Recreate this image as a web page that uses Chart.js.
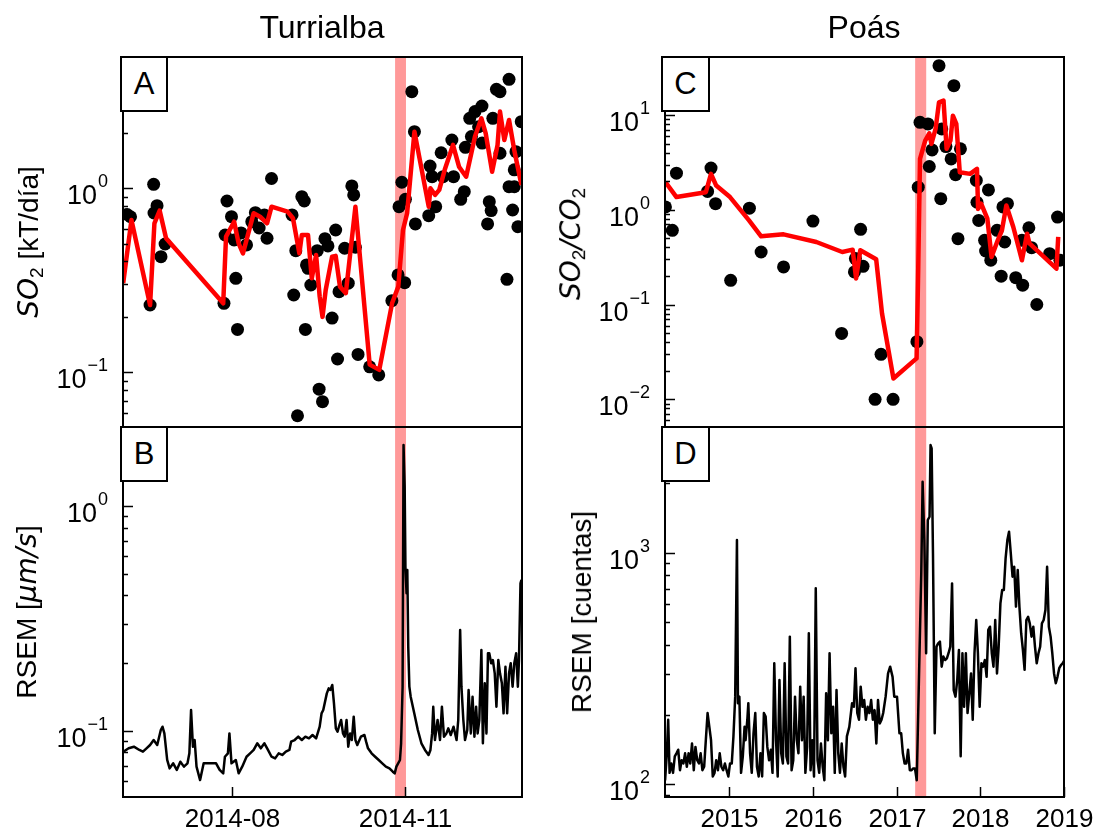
<!DOCTYPE html>
<html><head><meta charset="utf-8">
<script src="https://cdn.jsdelivr.net/npm/chart.js@4.4.1/dist/chart.umd.min.js"></script>
<style>
body{margin:0;background:#fff;width:1100px;height:834px;position:relative;overflow:hidden;font-family:"Liberation Sans",Arial,sans-serif;}
canvas{position:absolute;left:0;top:0;}
.title{position:absolute;top:9px;font-size:32px;transform:translateX(-50%);white-space:nowrap;}
.box{position:absolute;background:#fff;border:2px solid #000;box-sizing:border-box;font-size:31px;display:flex;align-items:center;justify-content:center;}
.ylab{position:absolute;font-size:28px;white-space:nowrap;transform:translate(-50%,-50%) rotate(-90deg);}
.m{font-family:"DejaVu Sans";font-style:italic;}
sub{font-size:0.68em;vertical-align:-0.25em;}
</style></head>
<body>
<canvas id="cA" width="1100" height="834"></canvas>
<canvas id="cB" width="1100" height="834"></canvas>
<canvas id="cC" width="1100" height="834"></canvas>
<canvas id="cD" width="1100" height="834"></canvas>
<div class="title" style="left:322px">Turrialba</div>
<div class="title" style="left:864px">Poás</div>
<div class="ylab" style="left:30px;top:242px"><span class="m">SO</span><sub>2</sub> [kT/día]</div>
<div class="ylab" style="left:26px;top:612px">RSEM [<span class="m">μm/s</span>]</div>
<div class="ylab" style="left:572px;top:244px"><span class="m">SO</span><sub>2</sub><span class="m">/CO</span><sub>2</sub></div>
<div class="ylab" style="left:582px;top:612px">RSEM [cuentas]</div>
<div class="box" style="left:120px;top:56px;width:48px;height:56px">A</div>
<div class="box" style="left:120px;top:426px;width:48px;height:56px">B</div>
<div class="box" style="left:661px;top:56px;width:49px;height:56px">C</div>
<div class="box" style="left:661px;top:426px;width:49px;height:56px">D</div>
<script>
// ---------- Panel A: Turrialba SO2 (x = day of year 2014, 0 = 1 Jan) ----------
const dotsA_day = [156.2,158.0,168.4,170.3,170.5,172.1,174.2,176.4,207.7,208.3,209.3,211.7,213.1,214.0,214.9,216.8,219.7,222.5,224.4,226.4,229.2,230.6,233.0,243.9,244.8,245.9,246.8,249.1,250.4,251.0,251.6,252.4,253.9,257.3,258.3,260.1,261.4,263.0,265.2,267.1,268.1,268.9,271.9,273.8,275.7,276.7,277.6,279.0,285.2,290.0,297.0,300.3,300.8,302.3,303.8,304.2,307.6,309.0,309.5,316.6,317.3,318.4,320.3,323.2,324.2,328.9,329.8,333.6,335.5,336.1,338.4,339.3,341.2,343.1,344.9,345.0,347.9,348.8,349.8,350.7,352.6,354.5,354.5,358.2,359.3,359.3,361.2,362.1,362.1,363.0,364.0,365.8];
const dotsA_val = [0.72,0.70,0.232,1.05,0.734,0.804,0.425,0.498,0.237,0.557,0.853,0.701,0.524,0.324,0.171,0.572,0.492,0.658,0.737,0.608,0.716,0.535,1.13,0.716,0.263,0.458,0.058,0.90,0.853,0.171,0.383,0.367,0.298,0.458,0.0809,0.0692,0.532,0.486,0.197,0.593,0.118,0.274,0.472,0.305,1.03,0.92,0.478,0.125,0.107,0.0967,0.245,0.338,0.794,1.078,0.307,0.871,3.35,2.03,0.640,0.710,1.32,1.156,0.794,1.56,1.156,1.83,1.156,0.871,0.958,1.67,2.40,1.91,2.61,2.16,2.80,1.76,0.640,0.846,0.756,2.40,3.45,3.35,1.55,0.32,3.91,1.02,0.762,1.26,1.02,1.58,0.618,2.30];
const lineA_day = [154.1,158.5,168.4,170.7,173.5,176.9,207.3,208.8,213.1,215.5,217.8,223.5,226.9,230.6,233.0,241.5,244.4,247.8,249.1,252.4,254.4,256.7,258.6,260.1,261.8,265.2,267.1,269.4,272.5,277.6,285.2,290.3,297.1,300.4,302.9,305.1,309.0,316.6,317.5,320.0,322.2,325.1,329.5,332.7,336.5,341.2,344.6,346.9,350.3,353.2,354.5,356.8,359.3,362.1,365.9];
const lineA_val = [0.305,0.672,0.232,0.645,0.756,0.535,0.237,0.546,0.658,0.502,0.443,0.732,0.701,0.645,0.794,0.746,0.687,0.443,0.557,0.557,0.324,0.434,0.258,0.20,0.280,0.425,0.429,0.292,0.269,0.794,0.110,0.103,0.237,0.292,0.593,0.732,2.03,0.794,1.0,0.92,0.98,1.26,1.72,1.31,1.156,1.91,2.40,1.99,1.23,1.72,2.61,1.83,2.35,1.61,1.04];

// ---------- Panel B: Turrialba RSEM ----------
const rsemB_day = [154.2,157.0,159.8,162.7,164.6,166.5,168.4,170.3,172.2,174.1,175.0,176.0,177.5,178.8,180.7,182.6,184.5,186.4,188.3,189.3,190.2,191.2,192.1,193.1,195.0,196.9,200.7,203.5,205.4,207.3,208.2,209.8,210.6,211.7,214.0,215.5,217.4,219.7,221.6,223.5,225.4,227.3,229.2,231.1,233.0,234.9,236.8,238.7,240.6,242.5,243.4,245.3,247.2,249.1,251.0,252.9,254.8,256.7,258.6,259.6,260.5,262.4,263.4,264.3,265.3,266.2,267.2,268.1,269.1,270.0,271.0,271.9,272.9,273.8,274.8,275.7,276.7,277.6,278.6,280.5,282.4,283.3,284.3,286.2,288.1,290.0,291.9,293.8,295.7,297.5,298.5,299.4,301.3,301.9,302.7,303.2,303.8,304.2,304.8,305.2,305.7,306.3,307.0,308.9,310.8,312.7,314.6,316.5,317.5,318.4,319.0,319.9,321.3,322.6,323.6,324.7,326.0,327.0,328.3,329.8,331.4,332.3,333.3,334.0,335.0,335.9,337.1,337.8,339.0,339.9,340.9,341.8,342.6,343.5,344.6,345.4,346.4,347.3,348.1,348.8,349.8,350.7,351.7,352.6,353.6,354.5,355.5,356.4,357.4,358.3,359.3,360.2,361.2,362.1,363.1,364.0,364.6,365.4,365.9];
const rsemB_val = [0.0807,0.0835,0.0849,0.0821,0.0807,0.0835,0.0864,0.0909,0.0864,0.1007,0.1042,0.0973,0.0741,0.068,0.0716,0.0669,0.0728,0.0692,0.0716,0.0793,0.1237,0.0849,0.0909,0.0692,0.0603,0.0716,0.0716,0.0716,0.0669,0.0646,0.0766,0.0793,0.0973,0.0716,0.0741,0.0646,0.0692,0.0766,0.0793,0.0821,0.0879,0.0835,0.0879,0.0821,0.0766,0.0753,0.0793,0.0780,0.0807,0.0821,0.0894,0.0909,0.0941,0.0909,0.0941,0.0925,0.0957,0.0925,0.1042,0.1195,0.1237,0.1466,0.1543,0.1518,0.1598,0.1323,0.1024,0.0990,0.106,0.1116,0.0973,0.0941,0.1116,0.0849,0.0973,0.0909,0.1155,0.0909,0.0864,0.0941,0.0957,0.0894,0.0835,0.0793,0.0766,0.0741,0.0716,0.0692,0.068,0.0657,0.0646,0.0692,0.0741,0.0879,0.157,1.869,1.219,0.537,0.409,0.519,0.2366,0.157,0.1417,0.1195,0.1007,0.0879,0.0821,0.0780,0.0821,0.0973,0.1279,0.0909,0.1116,0.0909,0.1279,0.0941,0.0973,0.1024,0.0957,0.1042,0.0909,0.1116,0.2806,0.157,0.1116,0.0909,0.1007,0.1518,0.0973,0.1417,0.0941,0.1279,0.0973,0.1116,0.2287,0.0879,0.1625,0.0973,0.221,0.221,0.1995,0.2064,0.180,0.1279,0.2064,0.180,0.1625,0.1195,0.1927,0.1195,0.180,0.1995,0.157,0.1995,0.221,0.157,0.2064,0.453,0.469];

// ---------- Panel C: Poás SO2/CO2 (x = decimal year) ----------
const dotsC_yr = [2014.236,2014.319,2014.368,2014.740,2014.781,2014.835,2015.016,2015.240,2015.380,2015.648,2015.999,2016.342,2016.495,2016.507,2016.569,2016.598,2016.742,2016.813,2016.957,2017.242,2017.258,2017.279,2017.374,2017.390,2017.423,2017.506,2017.539,2017.527,2017.589,2017.651,2017.684,2017.704,2017.733,2017.762,2017.952,2017.960,2017.981,2018.097,2018.051,2018.063,2018.125,2018.200,2018.270,2018.291,2018.249,2018.324,2018.423,2018.506,2018.497,2018.580,2018.613,2018.675,2018.828,2018.923,2018.951];
const dotsC_val = [1.07,0.606,2.43,1.56,2.75,1.16,0.180,1.04,0.358,0.249,0.760,0.0495,0.221,0.305,0.621,0.253,0.0100,0.0298,0.0100,0.0405,1.73,8.37,8.04,2.86,4.28,33.1,7.12,1.31,4.64,3.44,20.4,2.34,0.495,4.39,2.04,1.20,0.772,1.62,0.476,0.367,0.293,0.606,1.07,0.457,0.199,1.16,0.192,0.160,0.476,0.646,0.398,0.100,0.344,0.837,0.293];
const lineC_yr = [2014.236,2014.368,2014.719,2014.781,2014.843,2015.008,2015.235,2015.380,2015.648,2016.040,2016.350,2016.474,2016.515,2016.565,2016.755,2016.825,2016.961,2017.238,2017.258,2017.279,2017.341,2017.390,2017.415,2017.465,2017.506,2017.560,2017.597,2017.643,2017.672,2017.713,2017.754,2017.878,2017.960,2017.973,2018.010,2018.084,2018.134,2018.208,2018.258,2018.311,2018.394,2018.497,2018.559,2018.588,2018.613,2018.910,2018.931];
const lineC_val = [1.96,1.36,1.53,2.39,1.80,1.36,0.772,0.524,0.550,0.457,0.358,0.379,0.188,0.373,0.300,0.0804,0.0166,0.0270,0.249,3.44,5.37,6.41,4.95,7.12,13.6,14.2,4.39,5.37,9.84,8.04,2.49,2.39,2.70,1.02,1.16,0.804,0.318,0.476,0.606,1.11,0.657,0.293,0.559,0.439,0.421,0.239,0.516];

// ---------- Panel D: Poás RSEM ----------
const rsemD_yr = [2014.232,2014.253,2014.269,2014.286,2014.306,2014.327,2014.348,2014.368,2014.389,2014.410,2014.430,2014.451,2014.471,2014.492,2014.513,2014.533,2014.554,2014.575,2014.595,2014.616,2014.637,2014.657,2014.678,2014.699,2014.719,2014.740,2014.761,2014.781,2014.802,2014.823,2014.843,2014.864,2014.885,2014.905,2014.926,2014.947,2014.967,2014.988,2015.008,2015.029,2015.049,2015.070,2015.091,2015.103,2015.120,2015.140,2015.161,2015.182,2015.194,2015.215,2015.227,2015.248,2015.268,2015.289,2015.310,2015.330,2015.351,2015.372,2015.392,2015.413,2015.434,2015.454,2015.475,2015.496,2015.516,2015.537,2015.558,2015.578,2015.599,2015.620,2015.640,2015.661,2015.682,2015.702,2015.723,2015.744,2015.764,2015.785,2015.806,2015.826,2015.847,2015.868,2015.888,2015.909,2015.930,2015.950,2015.971,2015.992,2016.012,2016.033,2016.054,2016.074,2016.095,2016.116,2016.136,2016.157,2016.178,2016.198,2016.219,2016.240,2016.260,2016.281,2016.302,2016.322,2016.343,2016.364,2016.384,2016.405,2016.434,2016.467,2016.488,2016.508,2016.529,2016.550,2016.570,2016.591,2016.612,2016.632,2016.653,2016.674,2016.695,2016.715,2016.736,2016.757,2016.777,2016.798,2016.819,2016.839,2016.868,2016.897,2016.922,2016.951,2016.971,2017.004,2017.033,2017.054,2017.074,2017.095,2017.116,2017.136,2017.157,2017.178,2017.198,2017.219,2017.240,2017.273,2017.294,2017.310,2017.331,2017.352,2017.372,2017.393,2017.405,2017.418,2017.434,2017.455,2017.476,2017.496,2017.517,2017.538,2017.558,2017.579,2017.600,2017.620,2017.641,2017.662,2017.682,2017.703,2017.724,2017.744,2017.765,2017.786,2017.806,2017.827,2017.847,2017.868,2017.889,2017.909,2017.930,2017.951,2017.971,2017.992,2018.013,2018.033,2018.054,2018.075,2018.095,2018.116,2018.137,2018.157,2018.178,2018.199,2018.219,2018.240,2018.261,2018.281,2018.302,2018.323,2018.343,2018.364,2018.385,2018.405,2018.426,2018.447,2018.467,2018.488,2018.509,2018.529,2018.550,2018.571,2018.591,2018.612,2018.633,2018.653,2018.674,2018.695,2018.715,2018.736,2018.757,2018.778,2018.798,2018.819,2018.840,2018.860,2018.881,2018.902,2018.922,2018.943,2018.964,2018.984,2019.005];
const rsemD_val = [104,136,190,112,123,112,132,136,141,115,127,123,136,119,136,123,150,115,145,127,123,136,115,119,155,203,177,155,108,112,127,115,136,119,115,123,115,108,123,123,161,239,1134,224,239,112,132,177,155,190,224,136,112,166,203,119,108,136,108,203,196,145,127,141,112,333,155,108,282,136,123,333,132,123,434,115,127,239,155,136,264,155,239,112,145,449,115,155,108,702,127,112,150,119,104,247,155,368,166,216,112,255,136,112,150,119,108,161,177,224,216,317,203,190,264,216,231,190,216,203,231,190,209,150,231,183,190,203,239,301,322,291,239,239,166,166,136,123,123,141,115,115,117,117,104,368,814,2025,1134,368,1384,1430,2915,2820,993,166,393,406,413,322,356,344,350,368,393,737,255,239,282,380,132,368,216,368,203,247,301,190,368,512,368,216,333,322,344,291,464,479,368,322,512,301,393,604,690,690,945,1134,1232,993,788,870,585,842,585,449,380,312,512,529,495,434,479,393,333,368,393,495,512,566,870,479,434,368,301,273,291,317,327,333,344];

// ---------- ticks, labels, eruption bands ----------
const xTicksTur = [212, 304];
const xLabelsTur = ['2014-08', '2014-11'];
const xTicksPoas = [2015, 2016, 2017, 2018, 2019];
const xLabelsPoas = ['2015', '2016', '2017', '2018', '2019'];
const yTicksA = [0.1, 1], yExpA = ['\u22121', '0'];
const yTicksB = [0.1, 1], yExpB = ['\u22121', '0'];
const yTicksC = [0.01, 0.1, 1, 10], yExpC = ['\u22122', '\u22121', '0', '1'];
const yTicksD = [100, 1000], yExpD = ['2', '3'];
const bandTur = [298.7, 304.5];
const bandPoas = [2017.221, 2017.353];

const FONT = '"Liberation Sans", Arial, sans-serif';

const framePlugin = {
  id: 'frame',
  beforeDatasetsDraw(chart) {
    const o = chart.options.plugins.frame; const a = chart.chartArea; const ctx = chart.ctx;
    const x = chart.scales.x;
    ctx.save();
    ctx.fillStyle = 'rgba(255,0,0,0.4)';
    const x1 = x.getPixelForValue(o.band[0]), x2 = x.getPixelForValue(o.band[1]);
    ctx.fillRect(x1, a.top, x2 - x1, a.bottom - a.top);
    ctx.restore();
  },
  afterDraw(chart) {
    const o = chart.options.plugins.frame; const a = chart.chartArea; const ctx = chart.ctx;
    const x = chart.scales.x, y = chart.scales.y;
    ctx.save();
    ctx.strokeStyle = '#000'; ctx.fillStyle = '#000';
    ctx.lineWidth = 1.5;
    const lo = Math.floor(Math.log10(y.min)), hi = Math.ceil(Math.log10(y.max));
    for (let e = lo; e <= hi; e++) {
      for (let k = 2; k <= 9; k++) {
        const v = k * Math.pow(10, e);
        if (v <= y.min || v >= y.max) continue;
        const py = Math.round(y.getPixelForValue(v)) + 0.5;
        ctx.beginPath(); ctx.moveTo(a.left, py); ctx.lineTo(a.left + 5, py); ctx.stroke();
      }
    }
    o.yTicks.forEach((v, i) => {
      const py = Math.round(y.getPixelForValue(v)) + 0.5;
      ctx.beginPath(); ctx.moveTo(a.left, py); ctx.lineTo(a.left + 10, py); ctx.stroke();
      const exp = o.yExp[i];
      const right = a.left - 15;
      ctx.font = '18px ' + FONT;
      const ws = ctx.measureText(exp).width;
      ctx.textBaseline = 'alphabetic';
      ctx.textAlign = 'left';
      ctx.fillText(exp, right - ws, py + 15 - 17);
      ctx.font = '27px ' + FONT;
      ctx.textAlign = 'right';
      ctx.fillText('10', right - ws - 1, py + 15);
    });
    if (o.xTicks) {
      o.xTicks.forEach((v, i) => {
        const px = Math.round(x.getPixelForValue(v)) + 0.5;
        ctx.beginPath(); ctx.moveTo(px, a.bottom); ctx.lineTo(px, a.bottom - 10); ctx.stroke();
        ctx.font = '26px ' + FONT; ctx.textAlign = 'center'; ctx.textBaseline = 'alphabetic';
        ctx.fillText(o.xLabels[i], px, a.bottom + 30);
      });
    }
    ctx.lineWidth = 2;
    ctx.strokeRect(a.left, a.top, a.right - a.left, a.bottom - a.top);
    ctx.restore();
  }
};

function makeChart(id, area, xr, yr, datasets, frame) {
  return new Chart(document.getElementById(id), {
    type: 'scatter',
    data: { datasets },
    options: {
      responsive: false, animation: false, devicePixelRatio: 1,
      layout: { padding: { left: area[0], top: area[1], right: 1100 - area[2], bottom: 834 - area[3] } },
      scales: {
        x: { type: 'linear', min: xr[0], max: xr[1], display: false },
        y: { type: 'logarithmic', min: yr[0], max: yr[1], display: false }
      },
      plugins: { legend: { display: false }, tooltip: { enabled: false }, frame },
      events: []
    },
    plugins: [framePlugin]
  });
}
function pts(xs, ys) { return xs.map((v, i) => ({ x: v, y: ys[i] })); }
const redLine = (d) => ({ data: d, showLine: true, borderColor: '#ff0000', borderWidth: 4.5, pointRadius: 0, order: 0, clip: 0, borderJoinStyle: 'round' });
const dots = (d) => ({ data: d, showLine: false, pointRadius: 6.5, pointBackgroundColor: '#000', pointBorderWidth: 0, order: 1, clip: 0 });
const blackLine = (d) => ({ data: d, showLine: true, borderColor: '#000', borderWidth: 2.5, pointRadius: 0, order: 0, clip: 0, borderJoinStyle: 'round' });

const xTur = [154.0, 366.2], xPoas = [2014.231, 2019.0];
makeChart('cA', [123, 57, 522, 427], xTur, [0.0504, 5.17],
  [redLine(pts(lineA_day, lineA_val)), dots(pts(dotsA_day, dotsA_val))],
  { band: bandTur, yTicks: yTicksA, yExp: yExpA });
makeChart('cB', [123, 427, 522, 797], xTur, [0.0507, 2.247],
  [blackLine(pts(rsemB_day, rsemB_val))],
  { band: bandTur, yTicks: yTicksB, yExp: yExpB, xTicks: xTicksTur, xLabels: xLabelsTur });
makeChart('cC', [665, 57, 1064, 427], xPoas, [0.0051, 40.9],
  [redLine(pts(lineC_yr, lineC_val)), dots(pts(dotsC_yr, dotsC_val))],
  { band: bandPoas, yTicks: yTicksC, yExp: yExpC });
makeChart('cD', [665, 427, 1064, 797], xPoas, [88.1, 3490],
  [blackLine(pts(rsemD_yr, rsemD_val))],
  { band: bandPoas, yTicks: yTicksD, yExp: yExpD, xTicks: xTicksPoas, xLabels: xLabelsPoas });
</script>
</body></html>
